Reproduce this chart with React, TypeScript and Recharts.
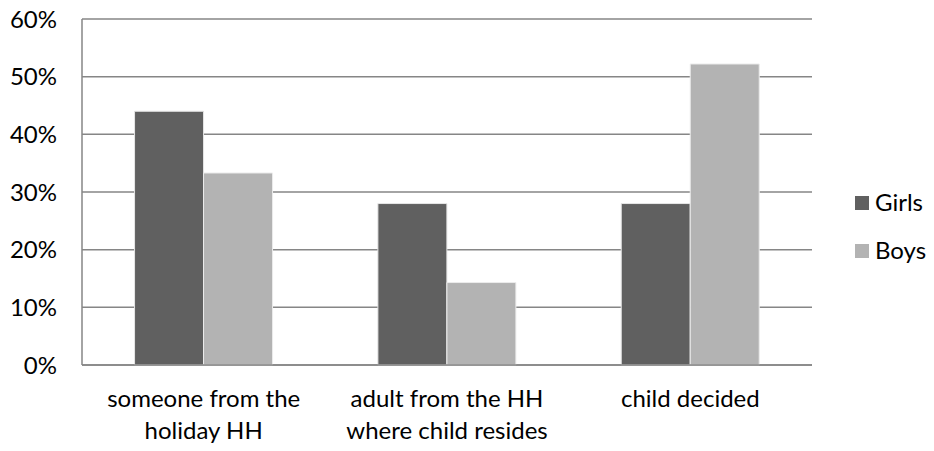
import { BarChart, Bar, XAxis, YAxis, CartesianGrid } from "recharts";

const categories = [
  ["someone from the", "holiday HH"],
  ["adult from the HH", "where child resides"],
  ["child decided"],
];
const girls = [0.44, 0.28, 0.28];
const boys = [0.333, 0.143, 0.522];
const yTicks = [0, 0.1, 0.2, 0.3, 0.4, 0.5, 0.6];

const FONT = "Lato, 'Open Sans', sans-serif";
const FS = 24;
const GRID = "#868686";
const GIRLS = "#606060";
const BOYS = "#b3b3b3";

const data = categories.map((lines, i) => ({
  name: lines.join("\n"),
  girls: girls[i],
  boys: boys[i],
}));

function XTick(props: any) {
  const { x, y, payload } = props;
  const lines = String(payload.value).split("\n");
  return (
    <g transform={`translate(${x},${y})`}>
      {lines.map((l, i) => (
        <text
          key={i}
          x={0}
          y={34 + i * 32}
          textAnchor="middle"
          fontFamily={FONT}
          fontSize={FS}
          fill="#000"
        >
          {l}
        </text>
      ))}
    </g>
  );
}

function Legend() {
  const items = [
    { label: "Girls", color: GIRLS, y: 203 },
    { label: "Boys", color: BOYS, y: 251 },
  ];
  return (
    <>
      {items.map((it) => (
        <div key={it.label}>
          <div
            style={{
              position: "absolute",
              left: 855,
              top: it.y - 7,
              width: 14,
              height: 14,
              background: it.color,
            }}
          />
          <div
            style={{
              position: "absolute",
              left: 875,
              top: it.y - 16,
              fontFamily: FONT,
              fontSize: FS,
              lineHeight: "30px",
              color: "#000",
            }}
          >
            {it.label}
          </div>
        </div>
      ))}
    </>
  );
}

export default function App() {
  return (
    <div style={{ position: "absolute", left: 0, top: 0, width: 934, height: 451, background: "#fff" }}>
      <BarChart
        width={934}
        height={451}
        data={data}
        margin={{ top: 19, right: 122, bottom: 0, left: 0 }}
        barCategoryGap="21.6%"
        barGap={0}
      >
        <CartesianGrid vertical={false} stroke={GRID} strokeWidth={1.5} />
        <XAxis
          dataKey="name"
          axisLine={{ stroke: GRID, strokeWidth: 1.5 }}
          tickLine={false}
          tick={<XTick />}
          interval={0}
          height={86}
        />
        <YAxis
          domain={[0, 0.6]}
          ticks={yTicks}
          tickFormatter={(v: number) => `${Math.round(v * 100)}%`}
          axisLine={{ stroke: GRID, strokeWidth: 1.5 }}
          tickLine={false}
          width={82}
          tickMargin={19}
          tick={{ fontFamily: FONT, fontSize: FS, fill: "#000" }}
        />
        <Bar dataKey="girls" fill={GIRLS} stroke="#e6e6e6" strokeWidth={1} isAnimationActive={false} />
        <Bar dataKey="boys" fill={BOYS} stroke="#ececec" strokeWidth={1} isAnimationActive={false} />
      </BarChart>
      <Legend />
    </div>
  );
}
